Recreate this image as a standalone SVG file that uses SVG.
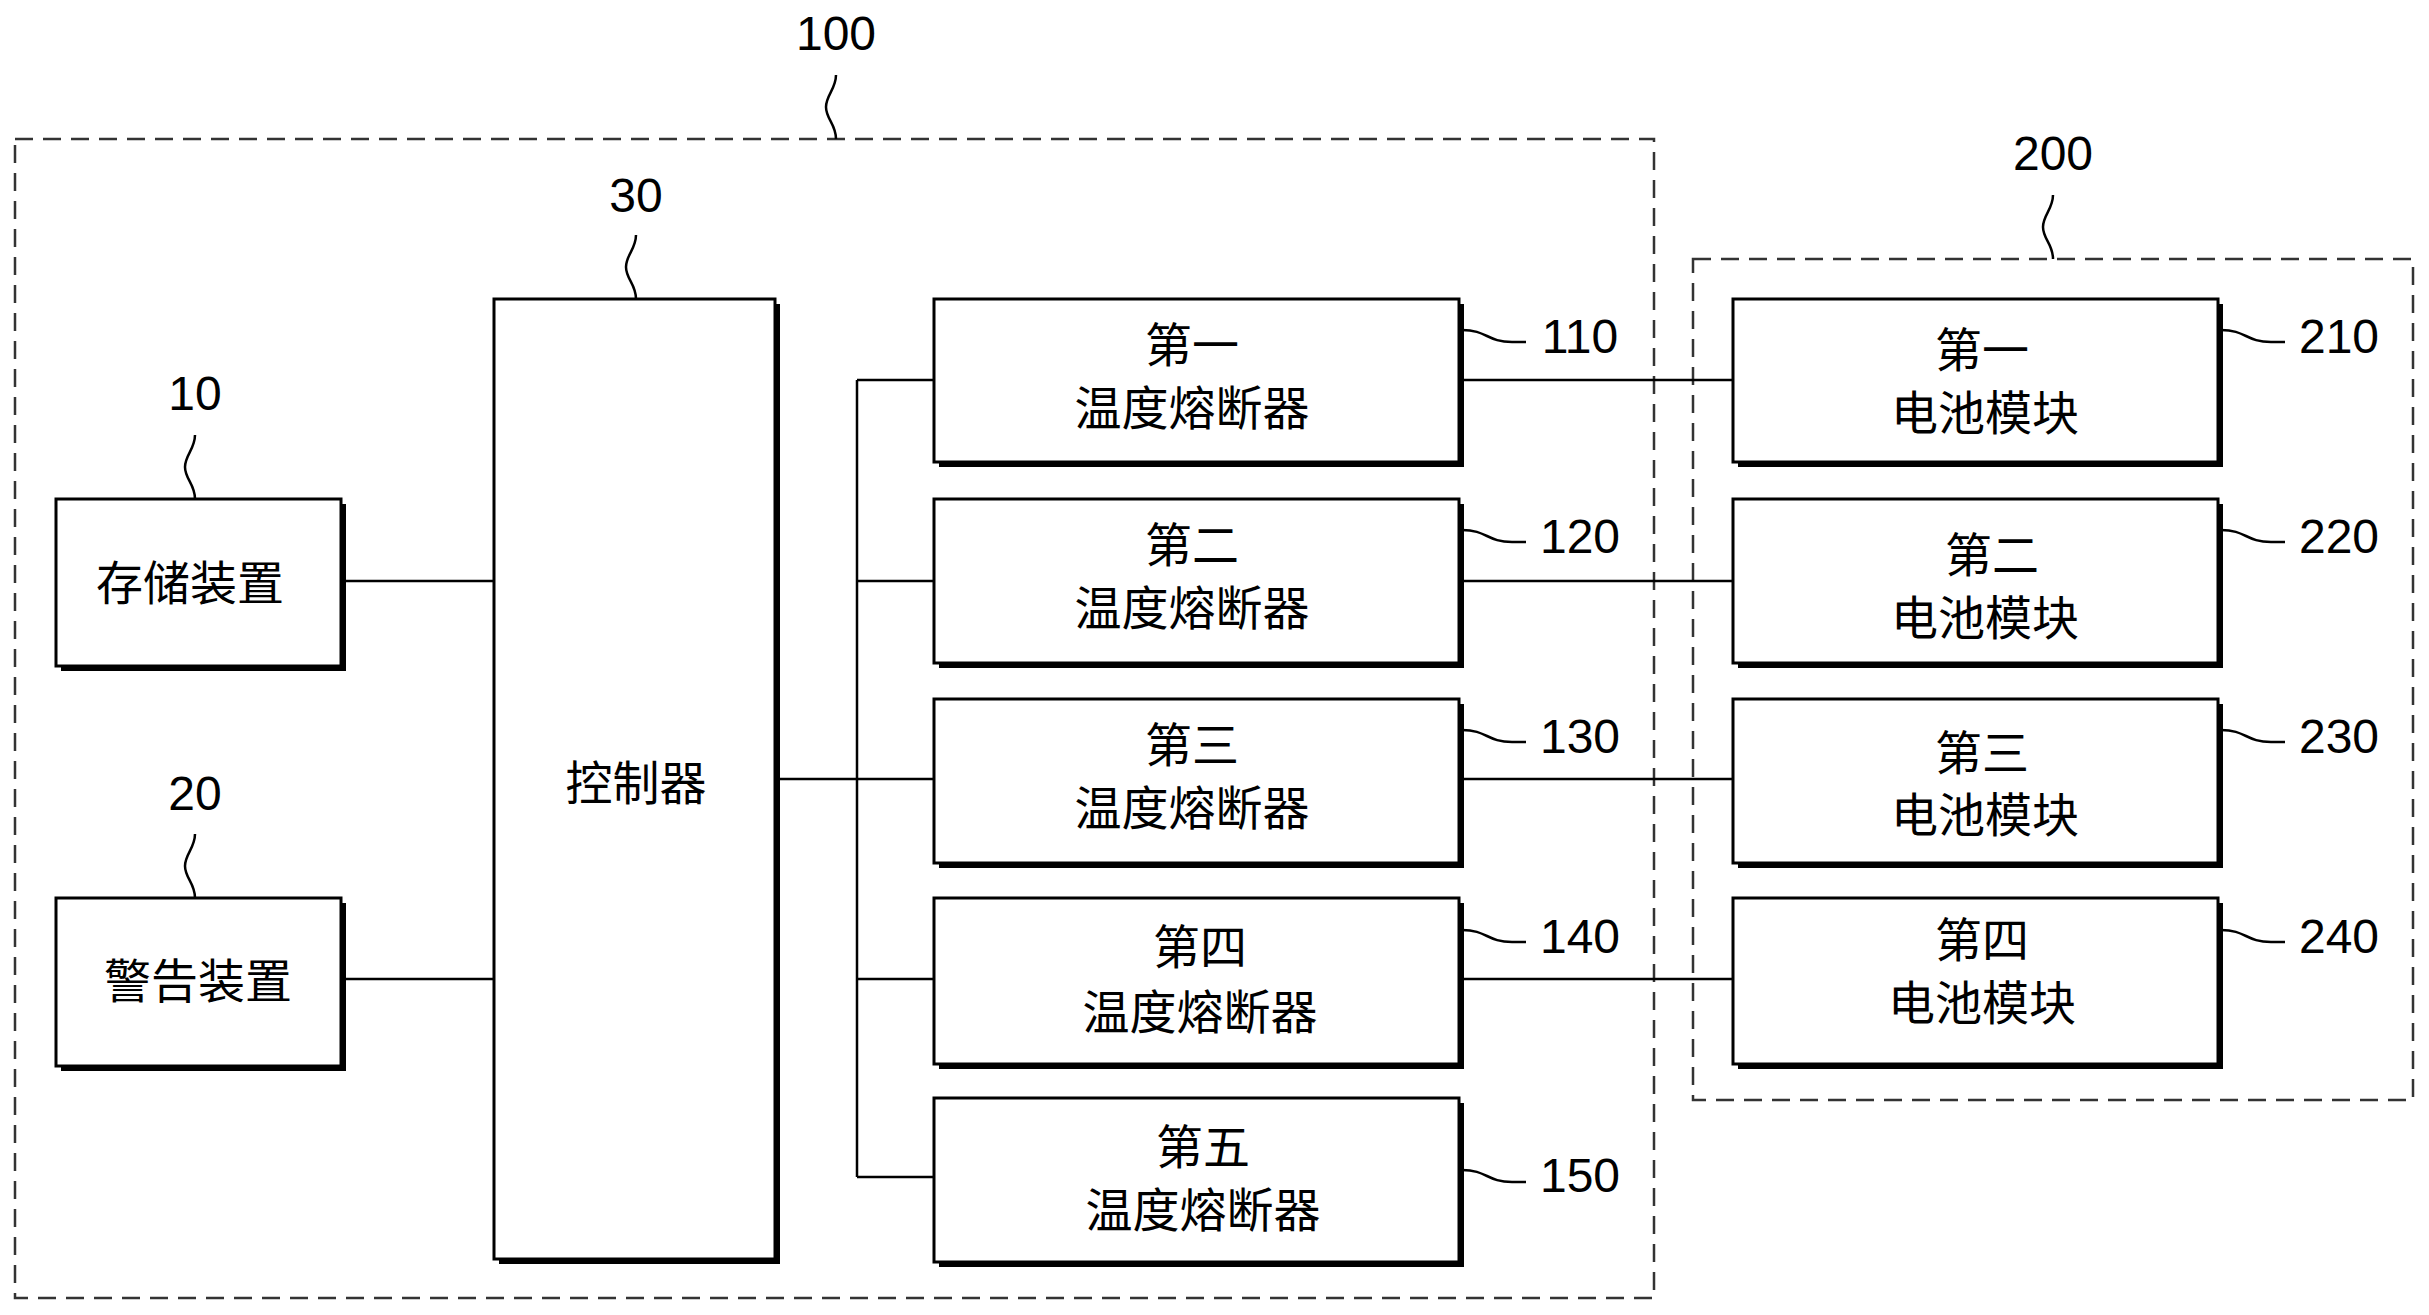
<svg xmlns="http://www.w3.org/2000/svg" width="2429" height="1315" viewBox="0 0 2429 1315">
<style>
.b{fill:#fff;stroke:#000;stroke-width:3}
.s{fill:#000}
.d{fill:none;stroke:#333;stroke-width:2.5;stroke-dasharray:18 10}
.l{fill:none;stroke:#000;stroke-width:2.5}
text{font-family:"Liberation Sans","Noto Sans CJK SC",sans-serif;font-size:47px;text-anchor:middle;fill:#000}
.n{font-size:48px}
</style>
<rect width="2429" height="1315" fill="#fff"/>
<g id="g100"><rect class="d" x="15" y="139" width="1639" height="1159"/><path class="l" d="M836 139c0-15-10-20-10-32s10-18 10-32"/><text class="n" x="836" y="50">100</text></g>
<g id="g200"><rect class="d" x="1693" y="259" width="720" height="841"/><path class="l" d="M2053 259c0-15-10-20-10-32s10-18 10-32"/><text class="n" x="2053" y="170">200</text></g>
<g id="connectors">
<path class="l" d="M341 581H494M341 979H494M775 779H857M857 380V1177M857 380H934M857 581H934M857 779H934M857 979H934M857 1177H934M1459 380H1733M1459 581H1733M1459 779H1733M1459 979H1733"/>
</g>
<g id="n30"><rect class="s" x="499" y="304" width="281" height="960"/><rect class="b" x="494" y="299" width="281" height="960"/><text x="636" y="800">控制器</text><path class="l" d="M636 299c0-15-10-20-10-32s10-18 10-32"/><text class="n" x="636" y="212">30</text></g>
<g id="n10"><rect class="s" x="61" y="504" width="285" height="167"/><rect class="b" x="56" y="499" width="285" height="167"/><text x="190" y="600">存储装置</text><path class="l" d="M195 499c0-15-10-20-10-32s10-18 10-32"/><text class="n" x="195" y="410">10</text></g>
<g id="n20"><rect class="s" x="61" y="903" width="285" height="168"/><rect class="b" x="56" y="898" width="285" height="168"/><text x="198" y="998">警告装置</text><path class="l" d="M195 898c0-15-10-20-10-32s10-18 10-32"/><text class="n" x="195" y="810">20</text></g>
<g id="n110"><rect class="s" x="939" y="304" width="525" height="163"/><rect class="b" x="934" y="299" width="525" height="163"/><text x="1192" y="362">第一</text><text x="1192" y="425">温度熔断器</text><path class="l" d="M1462 330c25 0 25 12 50 12h14"/><text class="n" x="1580" y="353">110</text></g>
<g id="n120"><rect class="s" x="939" y="504" width="525" height="164"/><rect class="b" x="934" y="499" width="525" height="164"/><text x="1192" y="562">第二</text><text x="1192" y="625">温度熔断器</text><path class="l" d="M1462 530c25 0 25 12 50 12h14"/><text class="n" x="1580" y="553">120</text></g>
<g id="n130"><rect class="s" x="939" y="704" width="525" height="164"/><rect class="b" x="934" y="699" width="525" height="164"/><text x="1192" y="762">第三</text><text x="1192" y="825">温度熔断器</text><path class="l" d="M1462 730c25 0 25 12 50 12h14"/><text class="n" x="1580" y="753">130</text></g>
<g id="n140"><rect class="s" x="939" y="903" width="525" height="166"/><rect class="b" x="934" y="898" width="525" height="166"/><text x="1200" y="964">第四</text><text x="1200" y="1029">温度熔断器</text><path class="l" d="M1462 930c25 0 25 12 50 12h14"/><text class="n" x="1580" y="953">140</text></g>
<g id="n150"><rect class="s" x="939" y="1103" width="525" height="164"/><rect class="b" x="934" y="1098" width="525" height="164"/><text x="1203" y="1164">第五</text><text x="1203" y="1227">温度熔断器</text><path class="l" d="M1462 1170c25 0 25 12 50 12h14"/><text class="n" x="1580" y="1192">150</text></g>
<g id="n210"><rect class="s" x="1738" y="304" width="485" height="163"/><rect class="b" x="1733" y="299" width="485" height="163"/><text x="1982" y="367">第一</text><text x="1985" y="430">电池模块</text><path class="l" d="M2221 330c25 0 25 12 50 12h14"/><text class="n" x="2339" y="353">210</text></g>
<g id="n220"><rect class="s" x="1738" y="504" width="485" height="164"/><rect class="b" x="1733" y="499" width="485" height="164"/><text x="1992" y="572">第二</text><text x="1985" y="635">电池模块</text><path class="l" d="M2221 530c25 0 25 12 50 12h14"/><text class="n" x="2339" y="553">220</text></g>
<g id="n230"><rect class="s" x="1738" y="704" width="485" height="164"/><rect class="b" x="1733" y="699" width="485" height="164"/><text x="1982" y="770">第三</text><text x="1985" y="832">电池模块</text><path class="l" d="M2221 730c25 0 25 12 50 12h14"/><text class="n" x="2339" y="753">230</text></g>
<g id="n240"><rect class="s" x="1738" y="903" width="485" height="166"/><rect class="b" x="1733" y="898" width="485" height="166"/><text x="1982" y="957">第四</text><text x="1982" y="1020">电池模块</text><path class="l" d="M2221 930c25 0 25 12 50 12h14"/><text class="n" x="2339" y="953">240</text></g>
</svg>
